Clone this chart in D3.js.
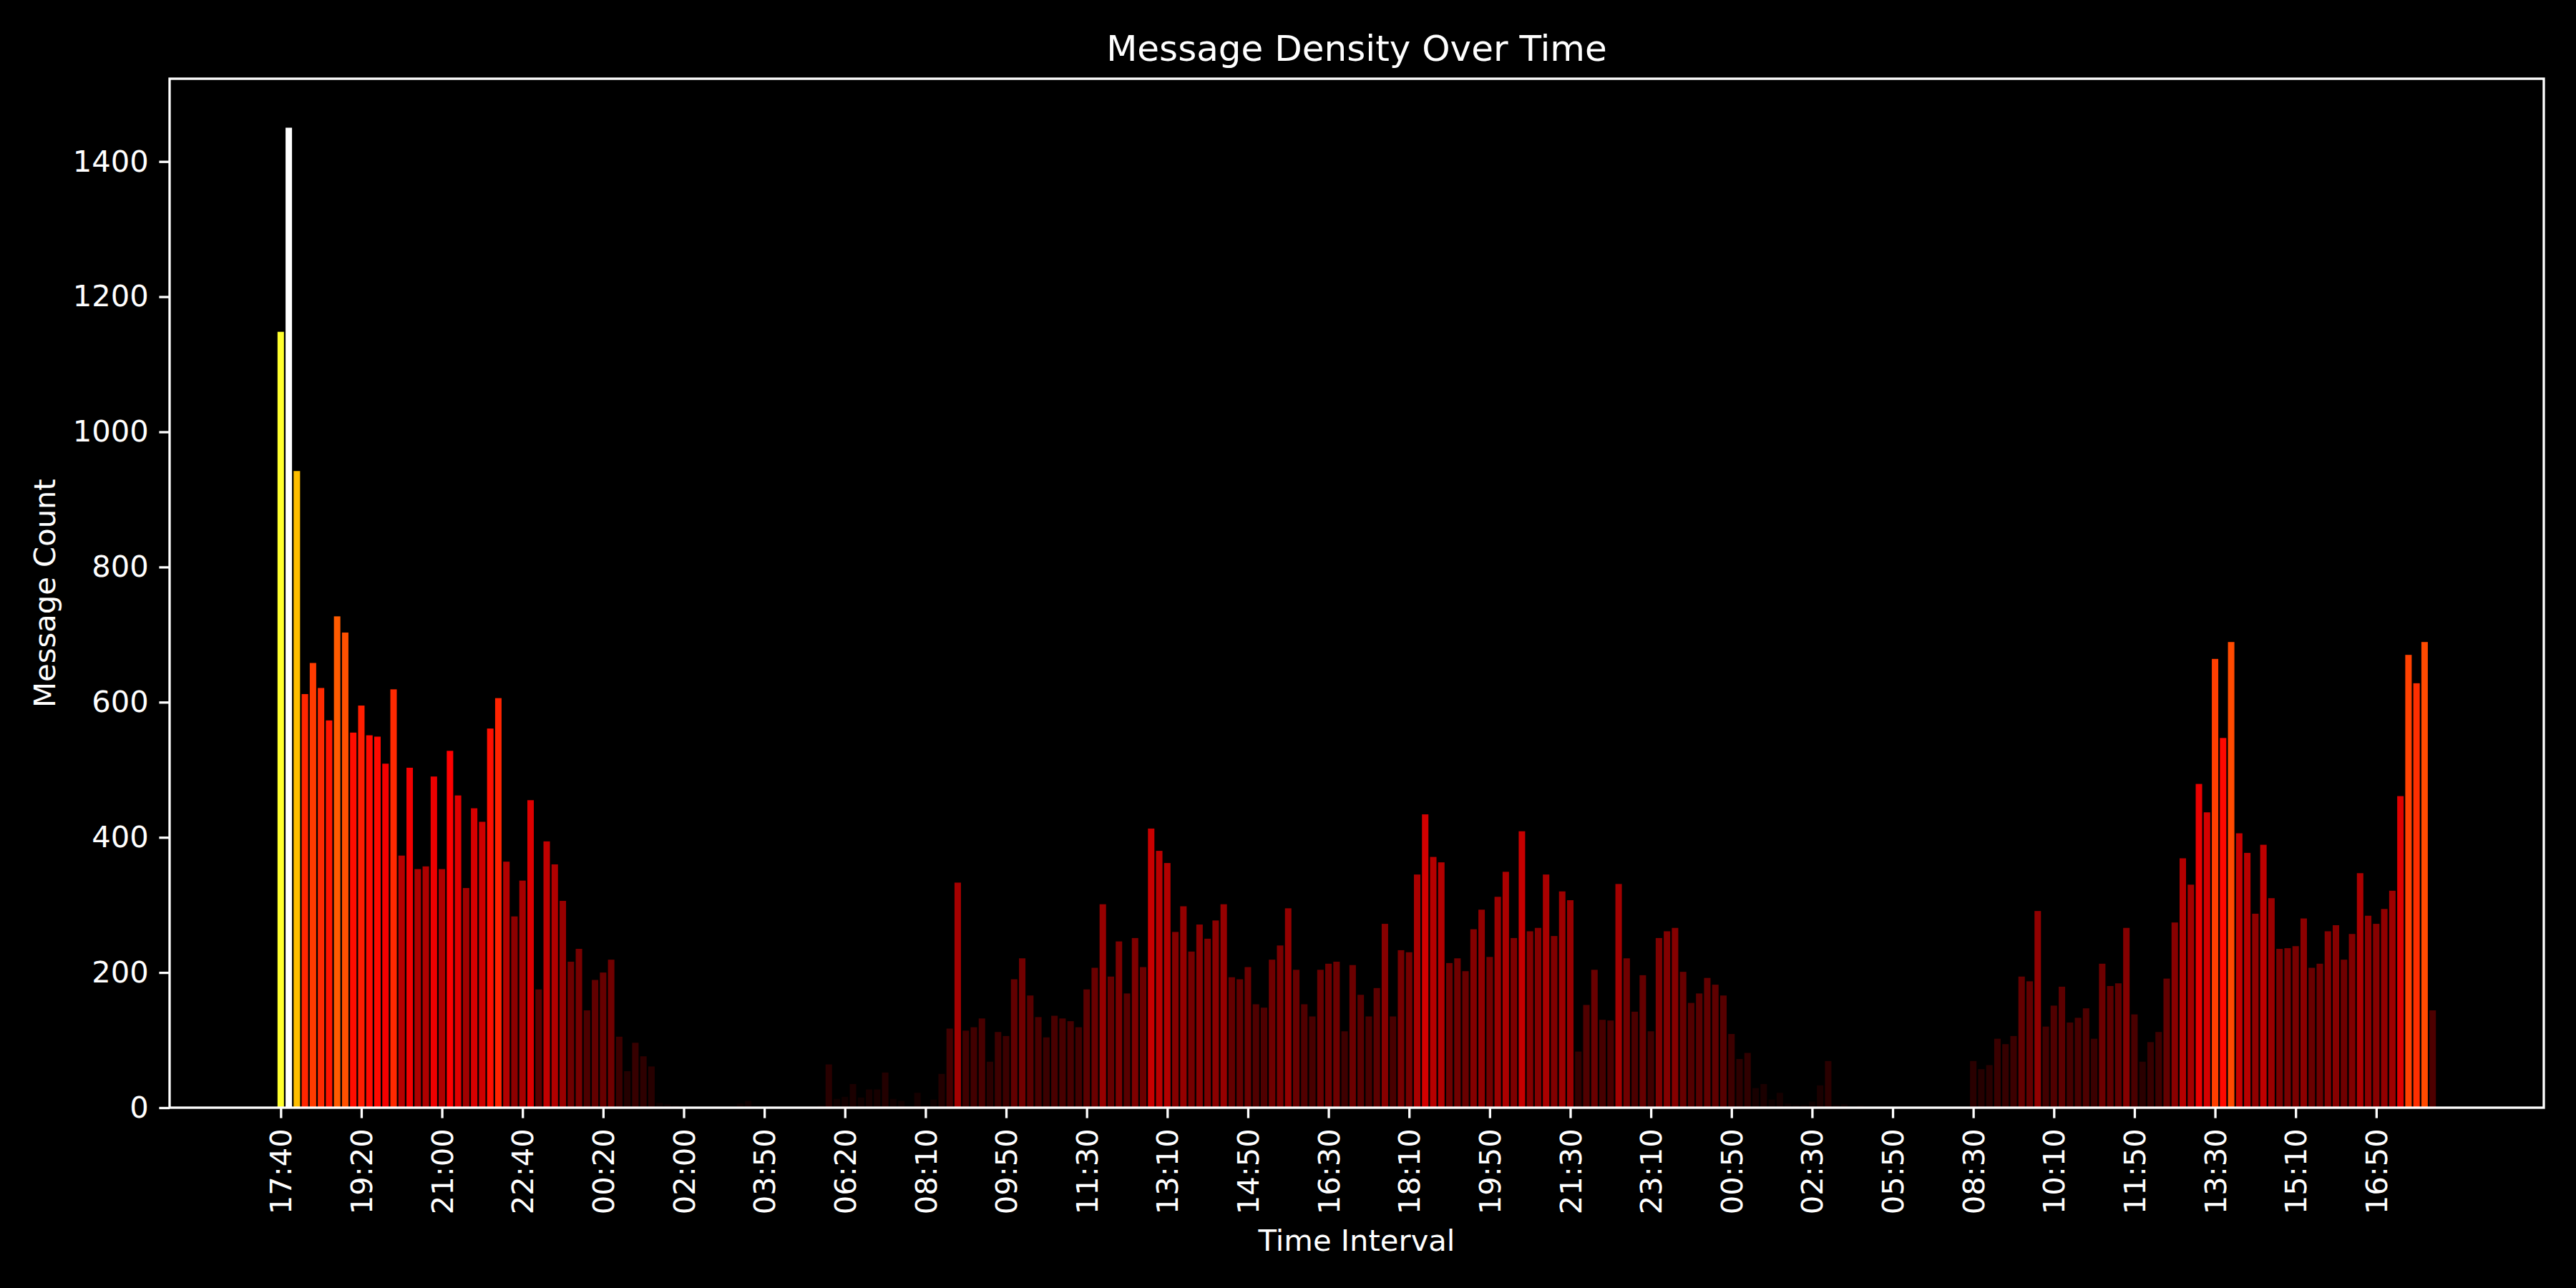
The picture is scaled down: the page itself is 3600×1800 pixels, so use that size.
<!DOCTYPE html>
<html>
<head>
<meta charset="utf-8">
<script src="https://cdn.jsdelivr.net/npm/d3@7"></script>
<style>
  html, body { margin: 0; padding: 0; background: #000; }
  svg { display: block; }
  text { font-family: "DejaVu Sans", sans-serif; fill: #fff; }
</style>
</head>
<body>
<svg id="chart" width="3600" height="1800"></svg>
<script>
// message count per 10 minute interval, one row per ten bars
var counts = [
  1148, 1450, 942, 612, 658, 621, 573, 727, 703, 555,
  595, 551, 549, 509, 619, 373, 503, 353, 357, 490,
  353, 528, 462, 325, 443, 423, 561, 606, 364, 283,
  336, 455, 175, 394, 360, 306, 216, 235, 144, 189,
  200, 219, 105, 54, 96, 76, 61, 7, 5, 3,
  2, 1, 1, 1, 2, 1, 1, 6, 10, 2,
  1, 2, 1, 1, 1, 1, 2, 3, 64, 13,
  16, 35, 15, 27, 27, 52, 13, 10, 2, 22,
  3, 12, 50, 117, 333, 114, 119, 132, 68, 112,
  106, 190, 221, 166, 134, 104, 136, 132, 128, 119,
  175, 207, 301, 194, 246, 169, 251, 208, 413, 380,
  362, 260, 298, 231, 271, 250, 277, 301, 193, 190,
  208, 153, 148, 219, 240, 295, 204, 153, 135, 204,
  213, 216, 113, 211, 167, 135, 177, 272, 135, 233,
  230, 345, 434, 371, 363, 214, 221, 202, 264, 293,
  223, 312, 349, 251, 409, 261, 266, 345, 254, 320,
  307, 83, 152, 204, 130, 129, 331, 221, 142, 196,
  113, 251, 261, 266, 201, 155, 169, 192, 182, 166,
  109, 72, 81, 29, 35, 12, 22, 6, 4, 4,
  9, 33, 69, 4, 5, 1, 3, 1, 1, 2,
  1, 1, 1, 1, 2, 1, 1, 1, 2, 1,
  69, 57, 63, 102, 94, 106, 194, 187, 291, 120,
  151, 179, 126, 133, 147, 102, 213, 180, 184, 266,
  138, 68, 97, 112, 191, 274, 369, 330, 479, 437,
  664, 547, 689, 406, 377, 287, 389, 310, 235, 236,
  239, 280, 207, 213, 261, 270, 219, 257, 347, 284,
  272, 294, 321, 461, 670, 628, 689, 144
];

// every tenth interval gets a label
var tickLabels = [
  "17:40", "19:20", "21:00", "22:40", "00:20", "02:00", "03:50", "06:20", "08:10",
  "09:50", "11:30", "13:10", "14:50", "16:30", "18:10", "19:50", "21:30", "23:10",
  "00:50", "02:30", "05:50", "08:30", "10:10", "11:50", "13:30", "15:10", "16:50"
];
var yTicks = [0, 200, 400, 600, 800, 1000, 1200, 1400];

var plotLeft = 237, plotRight = 3555, plotTop = 110, plotBottom = 1548;
var fontSmall = 41.7;

var svg = d3.select("#chart");
svg.append("rect").attr("width", 3600).attr("height", 1800).attr("fill", "#000");

var n = counts.length;
var barW = 0.8;
var span = (n - 1) + barW;
var pad = span * 0.05;

var x = d3.scaleLinear()
    .domain([-barW / 2 - pad, n - 1 + barW / 2 + pad])
    .range([plotLeft, plotRight]);

var maxCount = d3.max(counts);
var y = d3.scaleLinear()
    .domain([0, maxCount * 1.05])
    .range([plotBottom, plotTop]);

// matplotlib "hot" colormap
function hot(t) {
    t = Math.max(0, Math.min(1, t));
    var r = t < 0.365079 ? 0.0416 + (1 - 0.0416) * t / 0.365079 : 1;
    var g = t < 0.365079 ? 0 : (t < 0.746032 ? (t - 0.365079) / (0.746032 - 0.365079) : 1);
    var b = t < 0.746032 ? 0 : (t - 0.746032) / (1 - 0.746032);
    return d3.rgb(r * 255, g * 255, b * 255);
}

svg.append("g")
    .selectAll("rect")
    .data(counts)
    .join("rect")
    .attr("x", function(d, i) { return x(i - barW / 2); })
    .attr("width", x(barW) - x(0))
    .attr("y", function(d) { return y(d); })
    .attr("height", function(d) { return y(0) - y(d); })
    .attr("fill", function(d) { return hot(d / maxCount); });

// axes
var tickLen = 14.6;

var yAxis = svg.append("g")
    .attr("transform", "translate(" + plotLeft + ",0)")
    .call(d3.axisLeft(y)
        .tickValues(yTicks)
        .tickFormat(d3.format("d"))
        .tickSize(tickLen)
        .tickPadding(tickLen));

var xAxis = svg.append("g")
    .attr("transform", "translate(0," + plotBottom + ")")
    .call(d3.axisBottom(x)
        .tickValues(d3.range(0, tickLabels.length * 10, 10))
        .tickFormat(function(d) { return tickLabels[d / 10]; })
        .tickSize(tickLen)
        .tickPadding(tickLen));

[yAxis, xAxis].forEach(function(ax) {
    ax.select(".domain").remove();
    ax.selectAll(".tick line").attr("stroke", "#fff").attr("stroke-width", 3.3);
    ax.selectAll(".tick text")
        .attr("fill", "#fff")
        .style("font-family", "DejaVu Sans")
        .style("font-size", fontSmall + "px");
});

xAxis.selectAll(".tick text")
    .attr("y", 0)
    .attr("x", -(tickLen * 2))
    .attr("dy", "0.35em")
    .attr("transform", "rotate(-90)")
    .style("text-anchor", "end");

svg.append("rect")
    .attr("x", plotLeft)
    .attr("y", plotTop)
    .attr("width", plotRight - plotLeft)
    .attr("height", plotBottom - plotTop)
    .attr("fill", "none")
    .attr("stroke", "#fff")
    .attr("stroke-width", 3.3);

// labels
svg.append("text")
    .attr("x", (plotLeft + plotRight) / 2)
    .attr("y", 85)
    .attr("text-anchor", "middle")
    .style("font-size", "50px")
    .text("Message Density Over Time");

svg.append("text")
    .attr("x", (plotLeft + plotRight) / 2)
    .attr("y", 1748)
    .attr("text-anchor", "middle")
    .style("font-size", fontSmall + "px")
    .text("Time Interval");

svg.append("text")
    .attr("transform", "translate(62," + (plotTop + plotBottom) / 2 + ") rotate(-90)")
    .attr("dy", "0.35em")
    .attr("text-anchor", "middle")
    .style("font-size", fontSmall + "px")
    .text("Message Count");
</script>
</body>
</html>
